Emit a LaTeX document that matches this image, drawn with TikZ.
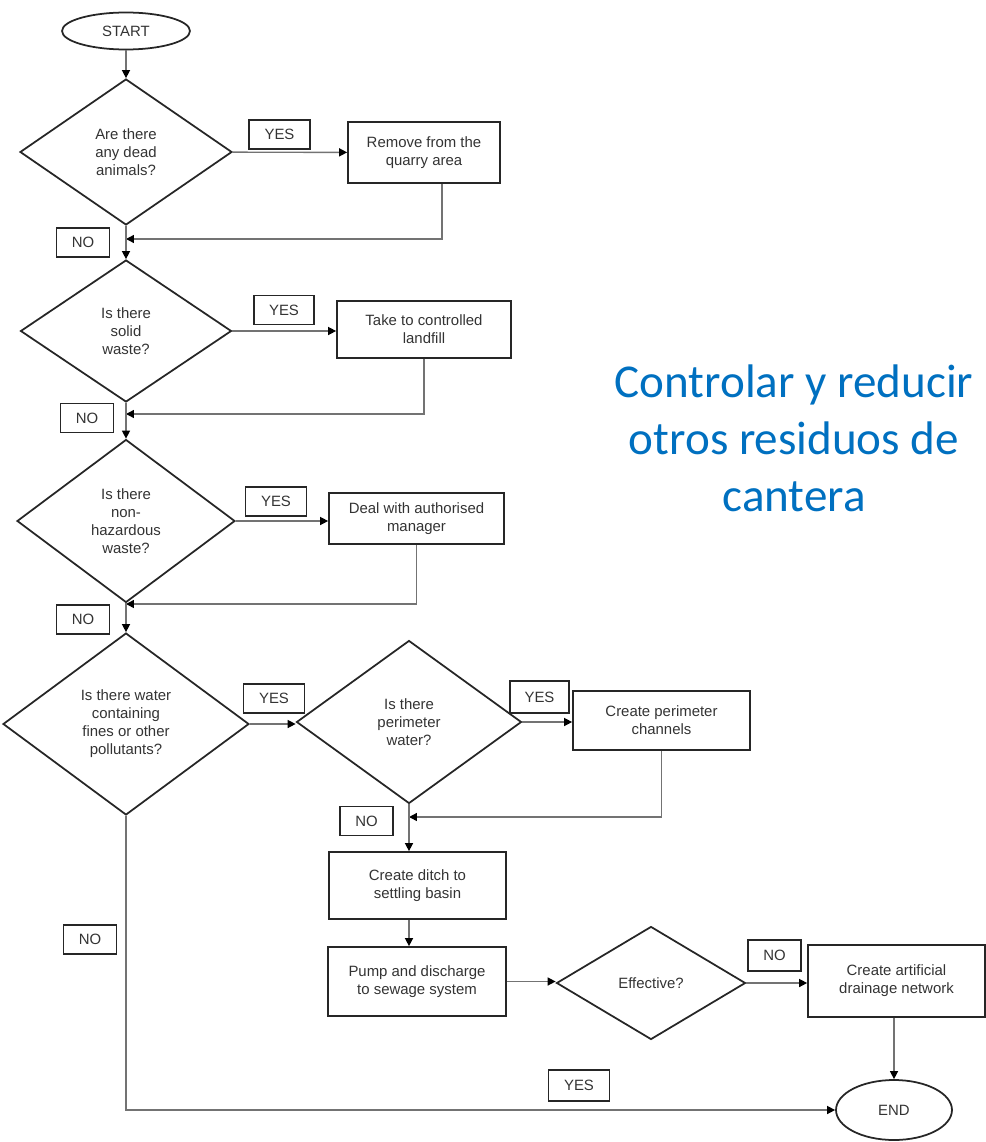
\documentclass[tikz,border=0pt]{standalone}
\usepackage{fontspec}
\setmainfont{Liberation Sans}
\newfontfamily\titlefont{Carlito}
\usetikzlibrary{arrows.meta,positioning,shapes.geometric}
\definecolor{titleblue}{RGB}{0,112,192}

\begin{document}
\begin{tikzpicture}[x=0.02cm,y=-0.02cm] % 1 unit = 1 px of the original
\tikzstyle{every node}=[font=\fontsize{8.5}{10.2}\selectfont, text=black!80]
\tikzstyle{decision}=[diamond, draw=black!85, line width=1pt, inner sep=0pt, align=center]
\tikzstyle{process}=[rectangle, draw=black!85, line width=1pt, align=center]
\tikzstyle{terminal}=[ellipse, draw=black!85, line width=1pt]
\tikzstyle{tag}=[rectangle, draw=black!85, line width=0.9pt, minimum width=1.06cm, minimum height=0.58cm, inner sep=0pt]
\tikzstyle{yestag}=[tag, minimum width=1.22cm]
\tikzstyle{wire}=[draw=black!55, line width=0.8pt]
\tikzstyle{flow}=[wire, -{Triangle[length=4.5pt,width=4.5pt,color=black]}]

\useasboundingbox (0,0) rectangle (986,1142);

 % left column of questions
 \node[terminal, minimum width=2.56cm, minimum height=0.74cm] (start) at (126,31) {START};
 \node[decision, minimum width=4.24cm, minimum height=2.92cm] (q1) at (126,152) {Are there\\any dead\\animals?};
 \node[decision, minimum width=4.22cm, minimum height=2.84cm] (q2) at (126,331) {Is there\\solid\\waste?};
 \node[decision, minimum width=4.36cm, minimum height=3.26cm] (q3) at (126,521) {Is there\\non-\\hazardous\\waste?};
 \node[decision, minimum width=4.92cm, minimum height=3.64cm] (q4) at (126,724) {Is there water\\containing\\fines or other\\pollutants?};

 % actions
 \node[process, minimum width=3.04cm, minimum height=1.22cm] (remove) at (424,152.5) {Remove from the\\quarry area};
 \node[process, minimum width=3.48cm, minimum height=1.14cm] (landfill) at (424,329.5) {Take to controlled\\landfill};
 \node[process, minimum width=3.5cm, minimum height=1.02cm] (manager) at (416.5,518.5) {Deal with authorised\\manager};
 \node[decision, minimum width=4.5cm, minimum height=3.26cm] (q5) at (409,722) {Is there\\perimeter\\water?};
 \node[process, minimum width=3.54cm, minimum height=1.18cm] (perim) at (661.5,720.5) {Create perimeter\\channels};
 \node[process, minimum width=3.54cm, minimum height=1.34cm] (ditch) at (417.5,885.5) {Create ditch to\\settling basin};
 \node[process, minimum width=3.56cm, minimum height=1.38cm] (pump) at (417,981.5) {Pump and discharge\\to sewage system};
 \node[decision, minimum width=3.78cm, minimum height=2.26cm] (q6) at (651,983) {Effective?};
 \node[process, minimum width=3.54cm, minimum height=1.44cm] (drain) at (896.5,981) {Create artificial\\drainage network};
 \node[terminal, minimum width=2.32cm, minimum height=1.2cm] (stop) at (894,1110) {END};

 % YES / NO labels
 \node[yestag] (yes1) at (279.5,134.5) {YES};
 \node[tag] (no1) at (83,242.5) {NO};
 \node[yestag, minimum width=1.2cm] (yes2) at (284,310) {YES};
 \node[tag] (no2) at (87,418) {NO};
 \node[yestag] (yes3) at (276,501.5) {YES};
 \node[tag] (no3) at (83,619.5) {NO};
 \node[yestag] (yes4) at (274,698.5) {YES};
 \node[yestag, minimum width=1.18cm, minimum height=0.64cm] (yes5) at (539.5,697) {YES};
 \node[tag] (no5) at (366.5,821) {NO};
 \node[tag] (no4) at (90,939.5) {NO};
 \node[tag, minimum height=0.62cm] (no6) at (774.5,955.5) {NO};
 \node[yestag, minimum height=0.62cm] (yes7) at (579,1085.5) {YES};

 \node[font=\titlefont\fontsize{26.8}{32.4}\selectfont, text=titleblue, align=center, inner sep=0pt] (title) at (794,438) {Controlar y reducir\\otros residuos de\\cantera};

 % connectors
 \coordinate (j1) at (126,239);
 \coordinate (j2) at (126,414);
 \coordinate (j3) at (126,604);
 \coordinate (j5) at (409,817);
 \draw[flow] (start) -- (q1);
 \draw[flow] (q1) -- (remove);
 \draw[flow] (remove.-60) |- (j1);
 \draw[flow] (q1) -- (q2);
 \draw[flow] (q2.east) -- (q2.east -| landfill.west);
 \draw[flow] (landfill.south) |- (j2);
 \draw[flow] (q2) -- (q3);
 \draw[flow] (q3.east) -- (q3.east -| manager.west);
 \draw[flow] (manager.south) |- (j3);
 \draw[flow] (q3) -- (q4);
 \draw[flow] (q4.east) -- (q4.east -| q5.west);
 \draw[flow] (q5.east) -- (q5.east -| perim.west);
 \draw[flow] (perim.south) |- (j5);
 \draw[flow] (q5.south) -- (q5.south |- ditch.north);
 \draw[flow] (q5.south |- ditch.south) -- (q5.south |- pump.north);
 \draw[flow] (pump.east) -- (pump.east -| q6.west);
 \draw[flow] (q6.east) -- (q6.east -| drain.west);
 \draw[flow] (stop.north |- drain.south) -- (stop.north);
 \draw[flow] (q4.south) |- (stop.west);
\end{tikzpicture}
\end{document}
